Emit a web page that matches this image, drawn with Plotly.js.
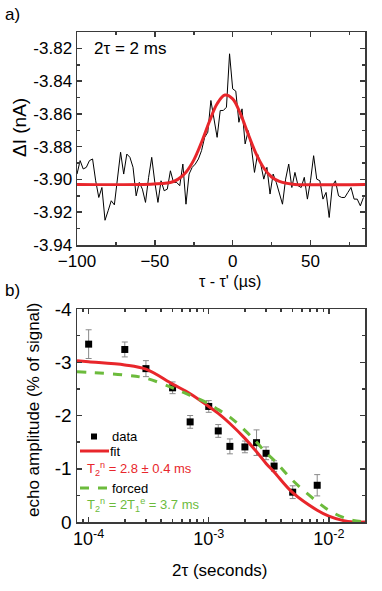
<!DOCTYPE html>
<html>
<head>
<meta charset="utf-8">
<script src="https://cdn.plot.ly/plotly-3.0.1.min.js"></script>
<style>
html, body { margin: 0; padding: 0; background: #fff; }
#chart { width: 382px; height: 591px; }
</style>
</head>
<body>
<div id="chart"></div>
<script>
// panel a: echo trace, tau - tau' in microseconds, current in nA
const echoTime = [-100, -98, -96, -94, -92, -90, -88, -86, -84, -82, -80, -78, -76, -74, -72, -70,
    -68, -66, -64, -62, -60, -58, -56, -54, -52, -50, -48, -46, -44, -42, -40, -38, -36, -34,
    -32, -30, -28, -26, -24, -22, -20, -18, -16, -14, -12, -10, -8, -6, -4, -2, 0, 2, 4, 6, 8,
    10, 12, 14, 16, 18, 20, 22, 24, 26, 28, 30, 32, 34, 36, 38, 40, 42, 44, 46, 48, 50, 52, 54,
    56, 58, 60, 62, 64, 66, 68, 70, 72, 74, 76, 78, 80, 82, 84];
const echoCurrent = [-3.8967, -3.8885, -3.8936, -3.8926, -3.8885, -3.8875, -3.9008, -3.9110,
    -3.9049, -3.9249, -3.9191, -3.9130, -3.9155, -3.9008, -3.8834, -3.8967, -3.8845, -3.8865,
    -3.8926, -3.9100, -3.9018, -3.9059, -3.9140, -3.8987, -3.8865, -3.9018, -3.9140, -3.9008,
    -3.9069, -3.9059, -3.8947, -3.9018, -3.9018, -3.9038, -3.8906, -3.9151, -3.8967, -3.8926,
    -3.8906, -3.8875, -3.8824, -3.8743, -3.8712, -3.8518, -3.8620, -3.8743, -3.8579, -3.8579,
    -3.8559, -3.8233, -3.8447, -3.8461, -3.8651, -3.8569, -3.8783, -3.8702, -3.8804, -3.8957,
    -3.8845, -3.8906, -3.8998, -3.8926, -3.9089, -3.8967, -3.9018, -3.9079, -3.9151, -3.8998,
    -3.8906, -3.9049, -3.8957, -3.9038, -3.9049, -3.8987, -3.9120, -3.9008, -3.8855, -3.8998,
    -3.9008, -3.9120, -3.9079, -3.9232, -3.9038, -3.9008, -3.9100, -3.9110, -3.9110, -3.9079,
    -3.9049, -3.9120, -3.9120, -3.9161, -3.9110];
const peakFitTime = [-100, -40, -35, -30, -25, -20, -15, -10, -5, 0, 5, 10, 15, 20, 25, 30, 35, 40, 85];
const peakFitCurrent = [-3.903, -3.9018, -3.8998, -3.8956, -3.8882, -3.8773, -3.8648, -3.8538,
    -3.8485, -3.8508, -3.8600, -3.8724, -3.8842, -3.8930, -3.8985, -3.9012, -3.9024, -3.903, -3.903];
const currentTicks = [-3.94, -3.92, -3.90, -3.88, -3.86, -3.84, -3.82];

// panel b: echo amplitude vs 2tau (seconds)
const delay = [1e-4, 2e-4, 3e-4, 5e-4, 7e-4, 1e-3, 1.2e-3, 1.5e-3, 2e-3, 2.5e-3, 3e-3, 3.5e-3, 5e-3, 8e-3];
const amplitude = [-3.34, -3.24, -2.88, -2.52, -1.88, -2.17, -1.71, -1.42, -1.41, -1.49, -1.29, -1.05, -0.56, -0.69];
const amplitudeErr = [0.27, 0.14, 0.15, 0.11, 0.12, 0.11, 0.12, 0.14, 0.11, 0.24, 0.12, 0.10, 0.12, 0.20];
const curveDelay = [8e-5, 1e-4, 2e-4, 3e-4, 5e-4, 7e-4, 1e-3, 1.2e-3, 1.5e-3, 2e-3, 2.5e-3, 3e-3,
    3.5e-3, 5e-3, 8e-3, 1e-2, 1.3e-2, 1.6e-2, 2e-2];
const fitAmp = [-3.03, -3.01, -2.95, -2.87, -2.59, -2.41, -2.17, -2.04, -1.85, -1.57, -1.32, -1.10,
    -0.94, -0.55, -0.22, -0.11, -0.03, 0, 0];
const forcedAmp = [-2.82, -2.81, -2.76, -2.70, -2.52, -2.38, -2.22, -2.11, -1.97, -1.72, -1.50, -1.30,
    -1.16, -0.78, -0.38, -0.22, -0.09, -0.03, 0];
const amplitudeTicks = [0, -1, -2, -3, -4];
const delayTicks = [1e-4, 1e-3, 1e-2];
const delayTickText = ["10<sup>-4</sup>", "10<sup>-3</sup>", "10<sup>-2</sup>"];

const FONT = "Liberation Sans, Arial, sans-serif";
const RED = "#e8262b";
const GREEN = "#6cbb3c";
const AXIS = "#3a3a3a";

function px(x) { return x / 382; }
function py(y) { return 1 - y / 591; }

const baseAxis = {
    showgrid: false, zeroline: false, showline: true, linecolor: AXIS, linewidth: 1.5,
    mirror: "allticks", ticks: "inside", ticklen: 5, tickwidth: 1.5, tickcolor: AXIS,
    tickfont: { family: FONT, size: 17, color: "#000" }
};

const traces = [
    { x: echoTime, y: echoCurrent, xaxis: "x", yaxis: "y", type: "scatter", mode: "lines",
      line: { color: "#000", width: 1 } },
    { x: peakFitTime, y: peakFitCurrent, xaxis: "x", yaxis: "y", type: "scatter", mode: "lines",
      line: { color: RED, width: 3, shape: "spline" } },
    { x: delay, y: amplitude, xaxis: "x2", yaxis: "y2", type: "scatter", mode: "markers",
      marker: { symbol: "square", size: 7, color: "#000" },
      error_y: { type: "data", array: amplitudeErr, color: "#8a8a8a", thickness: 1, width: 3 } },
    { x: curveDelay, y: fitAmp, xaxis: "x2", yaxis: "y2", type: "scatter", mode: "lines",
      line: { color: RED, width: 3, shape: "spline" } },
    { x: curveDelay, y: forcedAmp, xaxis: "x2", yaxis: "y2", type: "scatter", mode: "lines",
      line: { color: GREEN, width: 3, dash: "dash", shape: "spline" } }
];

function note(text, x, y, opts) {
    return Object.assign({ text: text, xref: "paper", yref: "paper", x: px(x), y: py(y),
        xanchor: "left", yanchor: "middle", showarrow: false, font: { size: 17 } }, opts || {});
}

const layout = {
    width: 382, height: 591,
    margin: { l: 0, r: 0, t: 0, b: 0 },
    paper_bgcolor: "#fff", plot_bgcolor: "#fff",
    showlegend: false,
    font: { family: FONT, size: 17, color: "#000" },
    xaxis: Object.assign({}, baseAxis, {
        domain: [px(77), px(365)], anchor: "y", range: [-100, 85],
        tick0: -100, dtick: 50,
        minor: { ticks: "inside", ticklen: 3, tickwidth: 1.5, tickcolor: AXIS, dtick: 25 }
    }),
    yaxis: Object.assign({}, baseAxis, {
        domain: [py(245), py(32)], anchor: "x", range: [-3.94, -3.81],
        tickvals: currentTicks, ticktext: currentTicks.map(v => v.toFixed(2)),
        minor: { ticks: "inside", ticklen: 3, tickwidth: 1.5, tickcolor: AXIS, dtick: 0.01, tick0: -3.94 }
    }),
    xaxis2: Object.assign({}, baseAxis, {
        domain: [px(77), px(365)], anchor: "y2", type: "log",
        range: [Math.log10(8e-5), Math.log10(2e-2)],
        tickvals: delayTicks, ticktext: delayTickText,
        tickfont: { family: FONT, size: 18, color: "#000" },
        minor: { ticks: "inside", ticklen: 3, tickwidth: 1.5, tickcolor: AXIS, dtick: "D1" }
    }),
    yaxis2: Object.assign({}, baseAxis, {
        domain: [py(522), py(309)], anchor: "x2", range: [0, -4],
        tickvals: amplitudeTicks, ticktext: amplitudeTicks.map(v => String(v)),
        tickfont: { family: FONT, size: 19, color: "#000" },
        minor: { ticks: "inside", ticklen: 3, tickwidth: 1.5, tickcolor: AXIS, dtick: 0.5, tick0: 0 }
    }),
    shapes: [
        { type: "rect", xref: "paper", yref: "paper", x0: px(91), x1: px(97), y0: py(439.5), y1: py(433.5),
          fillcolor: "#000", line: { width: 0 } },
        { type: "line", xref: "paper", yref: "paper", x0: px(80), x1: px(109), y0: py(451), y1: py(451),
          line: { color: RED, width: 3 } },
        { type: "line", xref: "paper", yref: "paper", x0: px(80), x1: px(108), y0: py(488), y1: py(488),
          line: { color: GREEN, width: 3, dash: "dash" } }
    ],
    annotations: [
        note("a)", 3, 15),
        note("b)", 3, 290),
        note("2\u03c4 = 2 ms", 92, 48),
        // axis titles
        note("\u0394I (nA)", 19, 128, { xanchor: "center", textangle: -90, font: { size: 19 } }),
        note("\u03c4 - \u03c4' (\u00b5s)", 230, 281, { xanchor: "center", font: { size: 16 } }),
        note("echo amplitude (% of signal)", 33, 410, { xanchor: "center", textangle: -90, font: { size: 17 } }),
        note("2\u03c4 (seconds)", 220, 570, { xanchor: "center", font: { size: 17 } }),
        // legend
        note("data", 110, 436, { font: { size: 13 } }),
        note("fit", 108, 451, { font: { size: 13 } }),
        note("T<sub>2</sub><sup>n</sup> = 2.8 \u00b1 0.4 ms", 85, 469, { font: { size: 13, color: RED } }),
        note("forced", 110, 488, { font: { size: 13 } }),
        note("T<sub>2</sub><sup>n</sup> = 2T<sub>1</sub><sup>e</sup> = 3.7 ms", 85, 505, { font: { size: 13, color: GREEN } })
    ]
};

Plotly.newPlot("chart", traces, layout, { displayModeBar: false, staticPlot: true });
</script>
</body>
</html>
